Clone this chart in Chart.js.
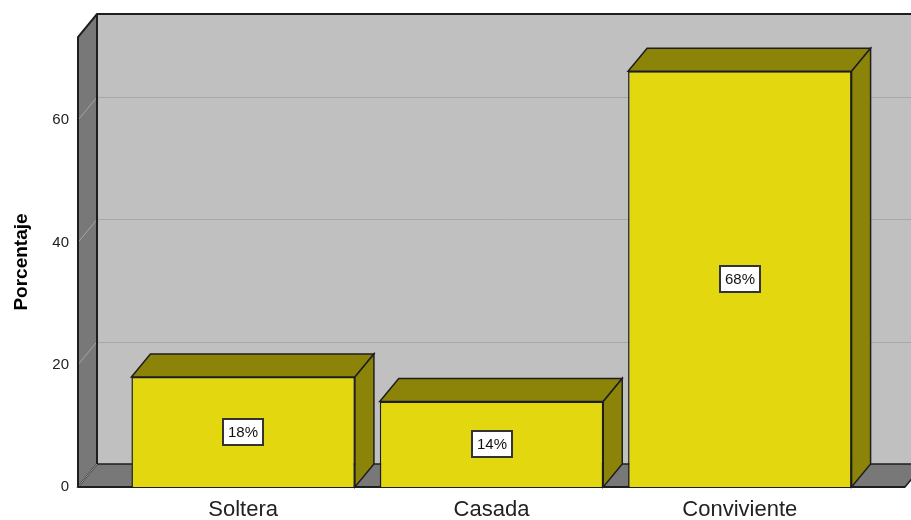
<!DOCTYPE html>
<html>
<head>
<meta charset="utf-8">
<script src="https://cdn.jsdelivr.net/npm/chart.js@4"></script>
<style>
  html, body { margin: 0; padding: 0; background: #fff; }
</style>
</head>
<body>
<canvas id="chart" width="911" height="520"></canvas>
<script>
const categories = ["Soltera", "Casada", "Conviviente"];
const percentages = [18, 14, 68];
const yTicks = [0, 20, 40, 60];
const yMax = 73.6;

// depth of the 3D box (pixels) and how far the frame reaches past the bars' area
const DEPTH_X = 19, DEPTH_Y = 23;
const FRAME_MARGIN = 41;

const FONT = '"Liberation Sans", Arial, sans-serif';
const YELLOW = "#e3d70f";
const OLIVE = "#8c8408";
const EDGE = "#1e1e1e";

function poly(ctx, pts) {
  ctx.beginPath();
  ctx.moveTo(pts[0][0], pts[0][1]);
  for (let i = 1; i < pts.length; i++) ctx.lineTo(pts[i][0], pts[i][1]);
  ctx.closePath();
}

// walls, floor and gridlines behind the bars
const frame3d = {
  id: "frame3d",
  beforeDatasetsDraw(chart) {
    const ctx = chart.ctx;
    const ys = chart.scales.y;
    const area = chart.chartArea;
    const L = area.left - FRAME_MARGIN, R = area.right + FRAME_MARGIN;
    const top = ys.getPixelForValue(yMax);
    const bottom = ys.getPixelForValue(0);
    const dx = DEPTH_X, dy = DEPTH_Y;

    ctx.save();
    // back wall
    ctx.fillStyle = "#c0c0c0";
    ctx.fillRect(L + dx, top - dy, R - L, bottom - top);

    // gridlines on the back wall
    ctx.strokeStyle = "#a8a8a8";
    ctx.lineWidth = 1;
    yTicks.forEach(v => {
      const py = Math.round(ys.getPixelForValue(v) - dy) + 0.5;
      ctx.beginPath();
      ctx.moveTo(L + dx, py);
      ctx.lineTo(R + dx + 5, py);
      ctx.stroke();
    });

    // left wall
    poly(ctx, [[L, bottom], [L, top], [L + dx, top - dy], [L + dx, bottom - dy]]);
    ctx.fillStyle = "#787878";
    ctx.fill();

    // floor
    poly(ctx, [[L, bottom], [R, bottom], [R + dx, bottom - dy], [L + dx, bottom - dy]]);
    ctx.fill();
    ctx.strokeStyle = EDGE;
    ctx.lineWidth = 1.5;
    ctx.stroke();

    // gridlines running across the left wall
    ctx.strokeStyle = "#a4a4a4";
    ctx.lineWidth = 1;
    yTicks.forEach(v => {
      const py = ys.getPixelForValue(v);
      ctx.beginPath();
      ctx.moveTo(L, py);
      ctx.lineTo(L + dx, py - dy);
      ctx.stroke();
    });

    // outlines
    ctx.strokeStyle = EDGE;
    ctx.lineWidth = 2;
    ctx.beginPath();
    ctx.moveTo(L, bottom);
    ctx.lineTo(L, top);
    ctx.lineTo(L + dx, top - dy);
    ctx.lineTo(R + dx + 5, top - dy);
    ctx.moveTo(L + dx, top - dy);
    ctx.lineTo(L + dx, bottom - dy);
    ctx.moveTo(L, bottom);
    ctx.lineTo(R, bottom);
    ctx.stroke();
    ctx.restore();
  },

  // top and side faces of each bar, then the value boxes
  afterDatasetsDraw(chart) {
    const ctx = chart.ctx;
    const meta = chart.getDatasetMeta(0);
    const dx = DEPTH_X, dy = DEPTH_Y;
    ctx.save();
    meta.data.forEach((bar, i) => {
      const { x, y, base, width } = bar.getProps(["x", "y", "base", "width"], true);
      const x0 = x - width / 2, x1 = x + width / 2;
      ctx.fillStyle = OLIVE;
      ctx.strokeStyle = EDGE;
      ctx.lineWidth = 1.5;
      poly(ctx, [[x0, y], [x0 + dx, y - dy], [x1 + dx, y - dy], [x1, y]]);
      ctx.fill();
      ctx.stroke();
      poly(ctx, [[x1, y], [x1 + dx, y - dy], [x1 + dx, base - dy], [x1, base]]);
      ctx.fill();
      ctx.stroke();

      const text = percentages[i] + "%";
      ctx.font = "15px " + FONT;
      const tw = ctx.measureText(text).width;
      const bw = Math.round(tw + 10), bh = 26;
      const cx = Math.round(x), cy = Math.round((y + base) / 2);
      ctx.fillStyle = "#fff";
      ctx.fillRect(cx - bw / 2, cy - bh / 2, bw, bh);
      ctx.strokeStyle = "#333";
      ctx.lineWidth = 2;
      ctx.strokeRect(cx - bw / 2, cy - bh / 2, bw, bh);
      ctx.fillStyle = "#111";
      ctx.textAlign = "center";
      ctx.textBaseline = "middle";
      ctx.fillText(text, cx, cy + 1);
    });
    ctx.restore();
  }
};

new Chart(document.getElementById("chart"), {
  type: "bar",
  data: {
    labels: categories,
    datasets: [{
      data: percentages,
      backgroundColor: YELLOW,
      borderColor: EDGE,
      borderWidth: 1.5,
      categoryPercentage: 1,
      barPercentage: 0.9
    }]
  },
  options: {
    responsive: false,
    animation: false,
    events: [],
    layout: { padding: { top: 37, right: 47, bottom: 0, left: 0 } },
    plugins: {
      legend: { display: false },
      tooltip: { enabled: false }
    },
    scales: {
      x: {
        offset: true,
        grid: { display: false, drawTicks: false },
        border: { display: false },
        ticks: { color: "#222", padding: 10, font: { family: FONT, size: 22 } },
        afterFit(s) { s.height = 33; }
      },
      y: {
        min: 0,
        max: yMax,
        // tick marks are not drawn; their length only pushes the labels left
        grid: { display: false, drawTicks: true, tickLength: 46 },
        border: { display: false },
        ticks: {
          stepSize: 20,
          includeBounds: false,
          padding: 4,
          color: "#222",
          font: { family: FONT, size: 15 }
        },
        title: {
          display: true,
          text: "Porcentaje",
          color: "#000",
          padding: { top: 10, bottom: 0 },
          font: { family: FONT, size: 19, weight: "bold" }
        },
        afterFit(s) { s.width = 119; }
      }
    }
  },
  plugins: [frame3d]
});
</script>
</body>
</html>
